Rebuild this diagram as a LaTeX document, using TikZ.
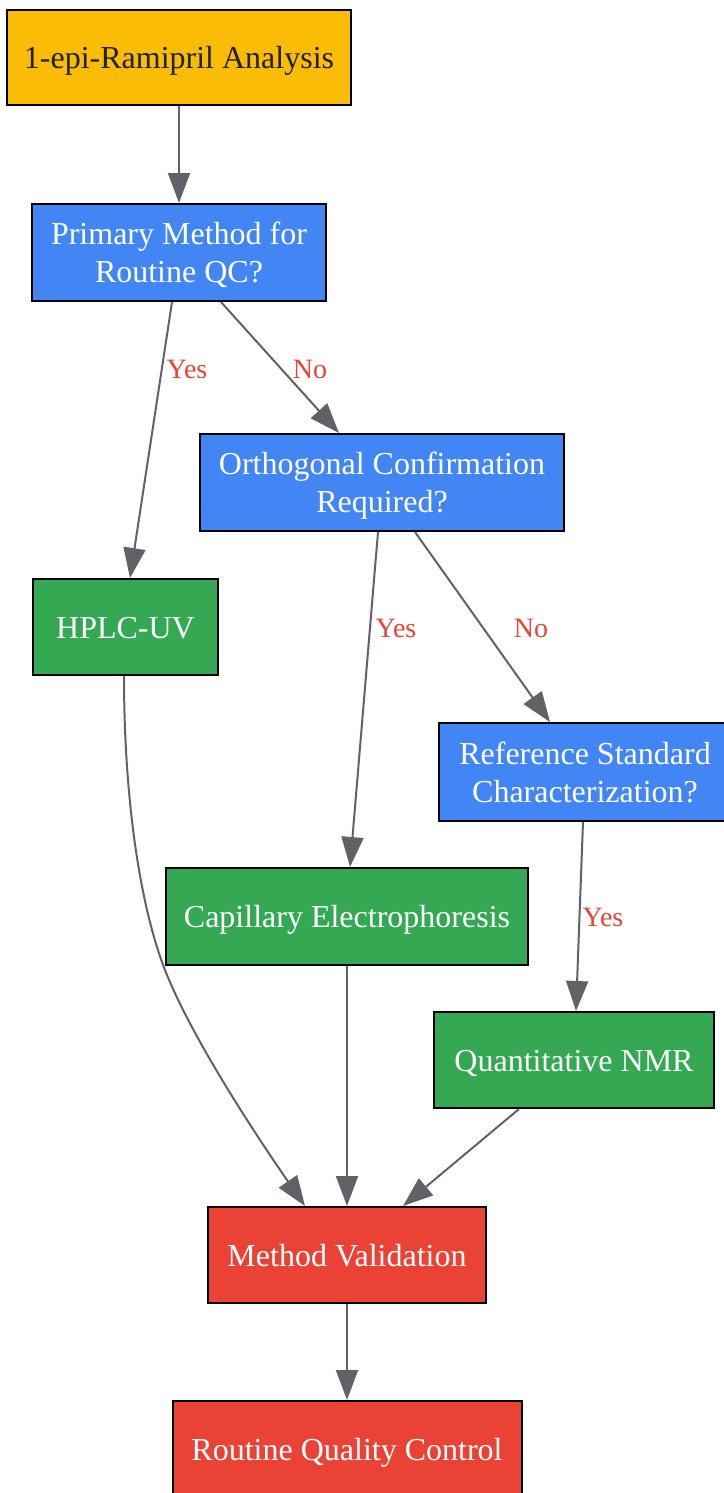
\documentclass[tikz,border=0pt]{standalone}
\usepackage{fontspec}
\setmainfont{Liberation Serif}
\usetikzlibrary{arrows.meta}
\definecolor{gyellow}{HTML}{FBBC05}
\definecolor{gblue}{HTML}{4285F4}
\definecolor{ggreen}{HTML}{34A853}
\definecolor{gred}{HTML}{EA4335}
\definecolor{ggray}{HTML}{5F6368}
\definecolor{gdark}{HTML}{202124}
\newcommand{\lnstrut}{\rule[-8pt]{0pt}{38pt}}
\tikzset{
  box/.style={draw=black, line width=2pt, rectangle, inner sep=0pt, align=center,
    font=\fontsize{32}{38}\selectfont, text=white},
  conn/.style={draw=ggray, line width=2pt, -{Triangle[length=30pt,width=22pt]}, fill=none},
  lab/.style={text=gred, font=\fontsize{28}{32}\selectfont, inner sep=0pt}
}
\begin{document}
\begin{tikzpicture}[x=1pt,y=-1pt]
\useasboundingbox (0,0) rectangle (723,1493);
\node[box, fill=gyellow, text=gdark, minimum width=344pt, minimum height=95pt] (A) at (179,57.5) {\lnstrut 1-epi-Ramipril Analysis};
\node[box, fill=gblue, minimum width=294pt, minimum height=97pt] (B) at (179,252.5) {\lnstrut Primary Method for\\\lnstrut Routine QC?};
\node[box, fill=gblue, minimum width=364pt, minimum height=97pt] (C) at (382,482.5) {\lnstrut Orthogonal Confirmation\\\lnstrut Required?};
\node[box, fill=ggreen, minimum width=185pt, minimum height=96pt] (D) at (125.5,627) {\lnstrut HPLC-UV};
\node[box, fill=gblue, minimum width=292pt, minimum height=98pt] (E) at (585,772) {\lnstrut Reference Standard\\\lnstrut Characterization?};
\node[box, fill=ggreen, minimum width=362pt, minimum height=97pt] (F) at (347,916.5) {\lnstrut Capillary Electrophoresis};
\node[box, fill=ggreen, minimum width=280pt, minimum height=96pt] (G) at (574,1060) {\lnstrut Quantitative NMR};
\node[box, fill=gred, minimum width=278pt, minimum height=96pt] (H) at (347,1255) {\lnstrut Method Validation};
\node[box, fill=gred, minimum width=349pt, minimum height=96pt] (I) at (347,1449) {\lnstrut Routine Quality Control};

\draw[conn] (A.south) -- (B.north);
\draw[conn] ([xshift=-7pt]B.south) -- ([xshift=4.5pt]D.north);
\draw[conn] ([xshift=42pt]B.south) -- ([xshift=-43pt]C.north);
\draw[conn] ([xshift=-4pt]C.south) -- ([xshift=3pt]F.north);
\draw[conn] ([xshift=33pt]C.south) -- ([xshift=-35pt]E.north);
\draw[conn] ([xshift=-2pt]E.south) -- ([xshift=2pt]G.north);
\draw[conn] ([xshift=-1.5pt]D.south) .. controls +(0,110) and +(-25,-70) .. (162,962) .. controls +(25,70) and +(-45,-65) .. ([xshift=-42pt]H.north);
\draw[conn] (F.south) -- (H.north);
\draw[conn] ([xshift=-55pt]G.south) -- ([xshift=56pt]H.north);
\draw[conn] (H.south) -- (I.north);

\node[lab] (l1) at (187,369) {Yes};
\node[lab] (l2) at (310,369) {No};
\node[lab] (l3) at (396,628) {Yes};
\node[lab] (l4) at (531,628) {No};
\node[lab] (l5) at (603,917) {Yes};
\end{tikzpicture}
\end{document}
